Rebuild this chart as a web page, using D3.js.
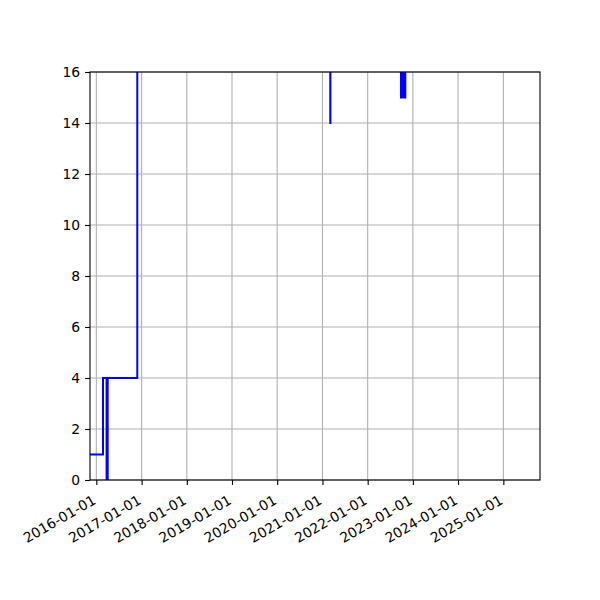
<!DOCTYPE html>
<html>
<head>
<meta charset="utf-8">
<script src="https://cdn.jsdelivr.net/npm/d3@7"></script>
<style>
  body { margin: 0; background: #fff; }
  text { font-family: "DejaVu Sans", sans-serif; font-size: 13.9px; fill: #000; }
</style>
</head>
<body>
<script>
// step data (steps-post); values above 16 run off the top of the plot
const dates = [
  '2015-11-01', '2016-02-24', '2016-03-24', '2016-04-02', '2016-11-27',
  '2021-03-05', '2021-03-06',
  '2022-09-27', '2022-10-05', '2022-10-08', '2022-10-18', '2022-10-21', '2022-11-01',
  '2025-10-31'
]
const values = [
  1, 4, 0, 4, 20,
  14, 20,
  15, 20, 15, 20, 15, 20,
  20
]
const yTicks = [0, 2, 4, 6, 8, 10, 12, 14, 16]
const xTickYears = [2016, 2017, 2018, 2019, 2020, 2021, 2022, 2023, 2024, 2025]
const xDomain = ['2015-11-11', '2025-10-24']

const margin = { top: 72, right: 60, bottom: 120, left: 90 }
const width = 600 - margin.left - margin.right
const height = 600 - margin.top - margin.bottom

const parse = d3.utcParse('%Y-%m-%d')
const fmt = d3.utcFormat('%Y-%m-%d')
const data = dates.map((d, i) => ({ date: parse(d), value: values[i] }))

const x = d3.scaleUtc()
  .domain(xDomain.map(parse))
  .range([0, width])

const y = d3.scaleLinear()
  .domain([0, 16])
  .range([height, 0])

const svg = d3.select('body')
  .append('svg')
    .attr('width', 600)
    .attr('height', 600)
  .append('g')
    .attr('transform', `translate(${margin.left}, ${margin.top})`)

svg.append('defs').append('clipPath')
    .attr('id', 'clip')
  .append('rect')
    .attr('width', width)
    .attr('height', height)

const xTicks = xTickYears.map(yr => new Date(Date.UTC(yr, 0, 1)))

// grid
svg.append('g')
  .selectAll('line')
  .data(xTicks).enter()
  .append('line')
    .attr('x1', d => x(d)).attr('x2', d => x(d))
    .attr('y1', 0).attr('y2', height)
    .attr('stroke', '#b0b0b0').attr('stroke-width', 1.1)

svg.append('g')
  .selectAll('line')
  .data(yTicks).enter()
  .append('line')
    .attr('x1', 0).attr('x2', width)
    .attr('y1', d => y(d)).attr('y2', d => y(d))
    .attr('stroke', '#b0b0b0').attr('stroke-width', 1.1)

const line = d3.line()
  .x(d => x(d.date))
  .y(d => y(d.value))
  .curve(d3.curveStepAfter)

svg.append('path')
  .datum(data)
  .attr('clip-path', 'url(#clip)')
  .attr('fill', 'none')
  .attr('stroke', '#0000ff')
  .attr('stroke-width', 2)
  .attr('d', line)

// axes
const xAxis = d3.axisBottom(x)
  .tickValues(xTicks)
  .tickFormat(fmt)
  .tickSize(4.9)
  .tickPadding(4.9)

const yAxis = d3.axisLeft(y)
  .tickValues(yTicks)
  .tickSize(4.9)
  .tickPadding(4.9)

const gx = svg.append('g')
  .attr('transform', `translate(0, ${height})`)
  .call(xAxis)
gx.selectAll('text')
  .attr('text-anchor', 'end')
  .attr('dy', null)
  .attr('y', 0)
  .attr('transform', 'translate(0, 23) rotate(-30)')

const gy = svg.append('g').call(yAxis)
gy.selectAll('text').attr('dy', '0.35em')

svg.selectAll('.domain').remove()
svg.selectAll('.tick line').attr('stroke', '#000').attr('stroke-width', 1.1)
svg.selectAll('.tick text').style('font-family', '"DejaVu Sans", sans-serif').style('font-size', '13.9px')

svg.append('rect')
  .attr('width', width)
  .attr('height', height)
  .attr('fill', 'none')
  .attr('stroke', '#000')
  .attr('stroke-width', 1.1)
</script>
</body>
</html>
